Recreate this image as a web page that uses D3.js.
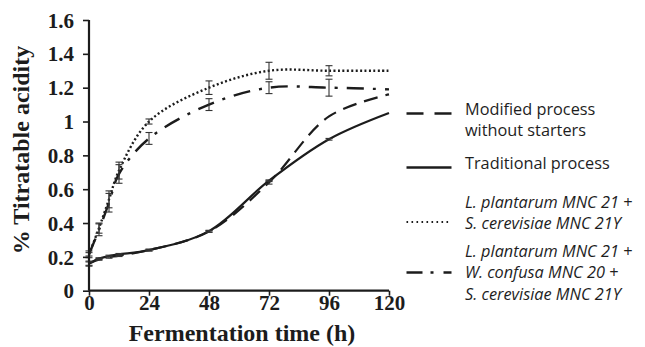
<!DOCTYPE html>
<html>
<head>
<meta charset="utf-8">
<script src="https://cdn.jsdelivr.net/npm/d3@7"></script>
<style>
  html, body { margin: 0; padding: 0; background: #fff; }
  svg { display: block; }
</style>
</head>
<body>
<svg id="chart" width="645" height="347"></svg>
<script>
// ---------- data ----------
const times = [0, 4, 8, 12, 24, 48, 72, 96, 120];
const xTicks = [0, 24, 48, 72, 96, 120];
const yTicks = [0, 0.2, 0.4, 0.6, 0.8, 1, 1.2, 1.4, 1.6];

const modifiedValues    = [0.16, 0.185, 0.197, 0.207, 0.24, 0.35, 0.64, 1.03, 1.16];
const modifiedErrors    = [0.01, 0.005, 0.005, 0.005, 0.005, 0.005, 0.01, 0, 0];
const traditionalValues = [0.16, 0.19, 0.205, 0.215, 0.24, 0.352, 0.65, 0.895, 1.05];
const traditionalErrors = [0.015, 0.005, 0.005, 0.005, 0.005, 0.005, 0.005, 0.005, 0];
const lpScValues        = [0.215, 0.37, 0.54, 0.71, 1.0, 1.2, 1.3, 1.3, 1.3];
const lpScErrors        = [0.01, 0.03, 0.05, 0.05, 0.015, 0.04, 0.05, 0.03, 0];
const lpWcScValues      = [0.215, 0.36, 0.52, 0.69, 0.9, 1.1, 1.2, 1.2, 1.19];
const lpWcScErrors      = [0.02, 0.035, 0.055, 0.055, 0.035, 0.035, 0.035, 0.05, 0];

const seriesNames = [
  ["Modified process", "without starters"],
  ["Traditional process"],
  ["L. plantarum MNC 21 +", "S. cerevisiae MNC 21Y"],
  ["L. plantarum MNC 21 +", "W. confusa MNC 20 +", "S. cerevisiae MNC 21Y"]
];
const xTitle = "Fermentation time (h)";
const yTitle = "% Titratable acidity";

// ---------- setup ----------
const svg = d3.select("#chart");
const ink = "#1c1c1c";
const x = d3.scaleLinear().domain([0, 120]).range([89, 389]);
const y = d3.scaleLinear().domain([0, 1.6]).range([290.7, 20]);

const series = [
  { vals: modifiedValues, errs: modifiedErrors, dash: "14,8", lw: 2.2, legDash: "17,11", italic: false },
  { vals: traditionalValues, errs: traditionalErrors, dash: null, lw: 2.2, legDash: null, italic: false },
  { vals: lpScValues, errs: lpScErrors, dash: "2,2.4", lw: 2.4, legDash: "1.6,3.4", italic: true },
  { vals: lpWcScValues, errs: lpWcScErrors, dash: "17,9,3,9", lw: 2.4, legDash: "16,8,3,10", italic: true }
];

const line = d3.line()
  .x((d, i) => x(times[i]))
  .y(d => y(d))
  .curve(d3.curveCatmullRom.alpha(0.5));

// ---------- series lines ----------
const plot = svg.append("g");
series.forEach(s => {
  plot.append("path")
    .attr("d", line(s.vals))
    .attr("fill", "none")
    .attr("stroke", ink)
    .attr("stroke-width", s.lw)
    .attr("stroke-dasharray", s.dash);
});

// ---------- error bars ----------
series.forEach(s => {
  s.vals.forEach((v, i) => {
    const e = s.errs[i];
    if (!e) return;
    const g = plot.append("g").attr("stroke", "#333").attr("stroke-width", 1.1);
    const cx = x(times[i]);
    g.append("line").attr("x1", cx).attr("x2", cx).attr("y1", y(v - e)).attr("y2", y(v + e));
    g.append("line").attr("x1", cx - 3.5).attr("x2", cx + 3.5).attr("y1", y(v - e)).attr("y2", y(v - e));
    g.append("line").attr("x1", cx - 3.5).attr("x2", cx + 3.5).attr("y1", y(v + e)).attr("y2", y(v + e));
  });
});

// ---------- axes ----------
const serif = "'Liberation Serif', 'Times New Roman', serif";
const yAxis = svg.append("g")
  .attr("transform", `translate(${x(0)},0)`)
  .call(d3.axisLeft(y).tickValues(yTicks).tickSize(6).tickPadding(9)
        .tickFormat(d => d3.format("")(+d.toFixed(1))));
const xAxis = svg.append("g")
  .attr("transform", `translate(0,${y(0)})`)
  .call(d3.axisBottom(x).tickValues(xTicks).tickSize(5).tickPadding(4));

[yAxis, xAxis].forEach(a => {
  a.select(".domain").attr("stroke", ink).attr("stroke-width", 2.2);
  a.selectAll(".tick line").attr("stroke", ink).attr("stroke-width", 1.6);
  a.selectAll(".tick text")
    .attr("fill", ink)
    .style("font-family", serif)
    .style("font-weight", "bold")
    .style("font-size", "21px");
});
// plain axis lines (no outer ticks)
yAxis.select(".domain").attr("d", `M0,${y(1.6)}V${y(0)}`);
xAxis.select(".domain").attr("d", `M0,0H${x(120) - x(0)}`).attr("transform", `translate(${x(0)},0)`);
xAxis.selectAll(".tick text").attr("dy", null).attr("y", 19);
yAxis.selectAll(".tick text").attr("dy", "0.34em");

// ---------- axis titles ----------
svg.append("text")
  .attr("x", 242).attr("y", 341)
  .attr("text-anchor", "middle")
  .attr("fill", ink)
  .style("font-family", serif).style("font-weight", "bold").style("font-size", "24px")
  .text(xTitle);
svg.append("text")
  .attr("transform", "translate(29,150) rotate(-90)")
  .attr("text-anchor", "middle")
  .attr("fill", ink)
  .style("font-family", serif).style("font-weight", "bold").style("font-size", "24px")
  .text(yTitle);

// ---------- legend ----------
const legendX1 = 406.5, legendX2 = 451.5, textX = 465;
const legendLineY = [113.5, 167.5, 222, 272.5];
const legendTextBase = [[115, 136], [169], [208, 229], [257, 278, 300]];
const sans = "'Open Sans', 'Noto Sans', sans-serif";
const leg = svg.append("g");
series.forEach((s, k) => {
  leg.append("line")
    .attr("x1", legendX1).attr("x2", legendX2)
    .attr("y1", legendLineY[k]).attr("y2", legendLineY[k])
    .attr("stroke", ink)
    .attr("stroke-width", k === 2 ? 1.8 : 2.4)
    .attr("stroke-dasharray", s.legDash);
  seriesNames[k].forEach((t, j) => {
    leg.append("text")
      .attr("x", textX).attr("y", legendTextBase[k][j])
      .attr("fill", "#1e1e1e")
      .style("font-family", sans)
      .style("font-size", "16.3px")
      .style("font-style", s.italic ? "italic" : "normal")
      .text(t);
  });
});
</script>
</body>
</html>
